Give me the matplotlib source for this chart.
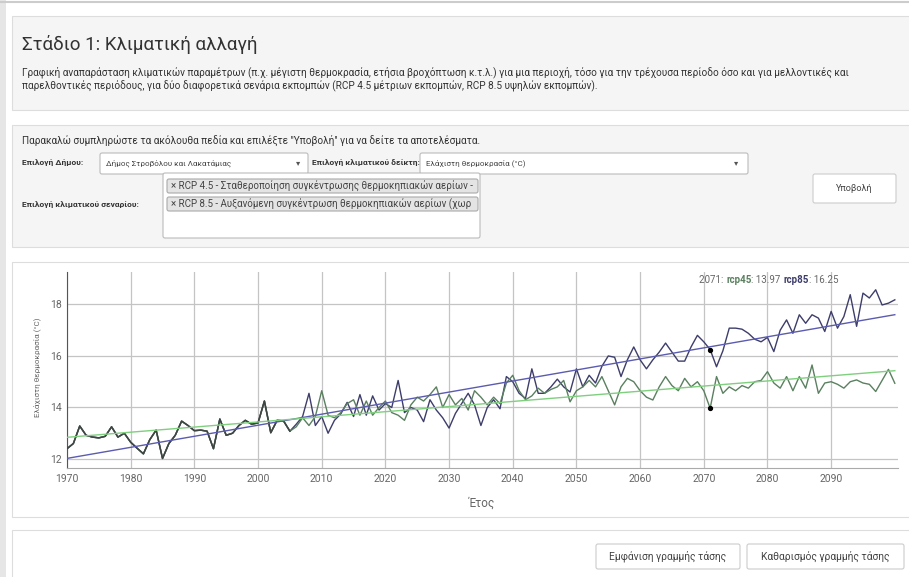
import numpy as np
import matplotlib
matplotlib.use("Agg")
import matplotlib.pyplot as plt
from matplotlib.patches import Rectangle, FancyBboxPatch
from matplotlib.offsetbox import TextArea, HPacker, AnnotationBbox
#======================================================================#
## data
hist_years = list(range(1970, 2006))
hist_vals = [12.40, 12.60, 13.28, 12.92, 12.85, 12.82, 12.88, 13.25, 12.85, 13.00,
             12.65, 12.42, 12.20, 12.75, 13.12, 12.02, 12.60, 12.92, 13.47, 13.30,
             13.10, 13.12, 13.08, 12.40, 13.55, 12.92, 13.00, 13.30, 13.50, 13.35,
             13.40, 14.25, 13.02, 13.50, 13.48, 13.08]

future_years = list(range(2006, 2101))
rcp85_future = [13.35, 13.65, 14.55, 13.30, 13.65, 13.00, 13.50, 13.75, 14.20, 13.65,
                14.50, 13.70, 14.45, 13.90, 14.15, 14.00, 15.05, 13.80, 14.00, 13.90,
                13.45, 14.30, 13.90, 13.60, 13.20, 13.77, 14.16, 14.55, 14.10, 13.30,
                14.00, 14.30, 13.95, 15.20, 15.00, 14.55, 14.35, 15.50, 14.55, 14.55,
                14.80, 15.10, 14.80, 14.60, 15.50, 14.80, 15.25, 14.95, 15.60, 16.00,
                15.95, 15.20, 15.85, 16.35, 15.85, 15.50, 15.85, 16.15, 16.50, 16.15,
                15.80, 15.80, 16.35, 16.80, 16.55, 16.25, 15.58, 16.20, 17.08, 17.08,
                17.04, 16.88, 16.65, 16.55, 16.72, 16.17, 17.00, 17.40, 16.88, 17.60,
                17.27, 17.60, 17.47, 16.95, 17.73, 17.08, 17.53, 18.38, 17.15, 18.44,
                18.25, 18.57, 17.98, 18.05, 18.18]
rcp45_future = [13.25, 13.60, 13.30, 13.65, 14.65, 13.70, 13.60, 13.80, 14.15, 14.30,
                13.70, 14.25, 13.70, 14.00, 14.25, 13.80, 13.70, 13.50, 14.10, 14.40,
                14.25, 14.50, 14.80, 14.00, 14.50, 14.10, 14.35, 13.90, 14.65, 14.40,
                14.10, 14.40, 14.15, 14.95, 15.25, 14.65, 14.30, 14.45, 14.75, 14.55,
                14.70, 14.80, 15.05, 14.22, 14.65, 14.80, 15.05, 14.80, 15.20, 14.65,
                14.10, 14.80, 15.13, 15.00, 14.65, 14.40, 14.29, 14.80, 15.20, 14.85,
                14.65, 15.13, 14.80, 15.00, 14.65, 13.97, 15.20, 14.55, 14.80, 14.65,
                14.85, 14.75, 15.00, 15.05, 15.39, 14.95, 14.75, 15.20, 14.65, 15.20,
                14.75, 15.65, 14.55, 14.95, 15.00, 14.90, 14.75, 15.00, 15.07, 14.95,
                14.90, 14.62, 15.05, 15.48, 14.94]

hover_year = 2071
hover_rcp45 = "13.97"
hover_rcp85 = "16.25"

x_ticks = [1970, 1980, 1990, 2000, 2010, 2020, 2030, 2040, 2050, 2060, 2070, 2080, 2090]
y_ticks = [12, 14, 16, 18]
#======================================================================#
## style parameters
W, H = 909, 577
ui_font = ['Roboto', 'DejaVu Sans']
c_rcp85 = '#3d3d6b'
c_rcp45 = '#5a8060'
c_trend85 = '#5b5bb0'
c_trend45 = '#7fcf7f'
c_panel = '#f5f5f5'
c_border = '#dddddd'
c_text = '#333333'
fs_small = 7.2                  # description / form text size
#======================================================================#
def box(ax, x0, y0, x1, y1, fc, ec, r=0.0, lw=0.8, z=1):
    if r > 0:
        p = FancyBboxPatch((x0, y0), x1 - x0, y1 - y0, boxstyle="round,pad=0,rounding_size=%g" % r,
                           fc=fc, ec=ec, lw=lw, zorder=z)
    else:
        p = Rectangle((x0, y0), x1 - x0, y1 - y0, fc=fc, ec=ec, lw=lw, zorder=z)
    ax.add_patch(p)

def main():
    fig = plt.figure(figsize=(W / 100, H / 100), dpi=100)
    bg = fig.add_axes([0, 0, 1, 1])
    bg.set_xlim(0, W)
    bg.set_ylim(H, 0)
    bg.axis('off')

    # page frame
    box(bg, 0, 0, 6, H, '#e6e6e6', 'none', z=0)
    bg.plot([0, W], [1.5, 1.5], color='#cccccc', lw=1.5)

    # header panel
    box(bg, 12, 16, W + 5, 110, c_panel, c_border)
    bg.text(22, 45, "Στάδιο 1: Κλιματική αλλαγή", fontsize=13.5, family=ui_font,
            color=c_text, va='center', ha='left')
    bg.text(22, 72, "Γραφική αναπαράσταση κλιματικών παραμέτρων (π.χ. μέγιστη θερμοκρασία, ετήσια βροχόπτωση κ.τ.λ.) "
            "για μια περιοχή, τόσο για την τρέχουσα περίοδο όσο και για μελλοντικές και",
            fontsize=fs_small, family=ui_font, color=c_text, va='center')
    bg.text(22, 86, "παρελθοντικές περιόδους, για δύο διαφορετικά σενάρια εκπομπών "
            "(RCP 4.5 μέτριων εκπομπών, RCP 8.5 υψηλών εκπομπών).",
            fontsize=fs_small, family=ui_font, color=c_text, va='center')

    # form panel
    box(bg, 12, 125, W + 5, 247, c_panel, c_border)
    bg.text(22, 140, "Παρακαλώ συμπληρώστε τα ακόλουθα πεδία και επιλέξτε \"Υποβολή\" για να δείτε τα αποτελέσματα.",
            fontsize=fs_small, family=ui_font, color=c_text, va='center')
    bg.text(22, 163, "Επιλογή Δήμου:", fontsize=6.0, family=ui_font, weight='bold', color=c_text, va='center')
    box(bg, 100, 153, 308, 174, 'white', '#bbbbbb', r=2)
    bg.text(106, 163.5, "Δήμος Στροβόλου και Λακατάμιας", fontsize=5.8, family=ui_font, color='#444444', va='center')
    bg.text(298, 163.5, "▾", fontsize=6, family=ui_font, color='#555555', va='center', ha='center')
    bg.text(312, 163, "Επιλογή κλιματικού δείκτη:", fontsize=6.0, family=ui_font, weight='bold', color=c_text, va='center')
    box(bg, 420, 153, 748, 174, 'white', '#bbbbbb', r=2)
    bg.text(426, 163.5, "Ελάχιστη θερμοκρασία (°C)", fontsize=5.8, family=ui_font, color='#444444', va='center')
    bg.text(736, 163.5, "▾", fontsize=6, family=ui_font, color='#555555', va='center', ha='center')

    bg.text(22, 204, "Επιλογή κλιματικού σεναρίου:", fontsize=6.0, family=ui_font, weight='bold', color=c_text, va='center')
    box(bg, 163, 173, 480, 238, 'white', '#bbbbbb', r=2)
    box(bg, 167, 179, 478, 193, '#e4e4e4', '#aaaaaa', r=2, z=2)
    box(bg, 167, 197, 478, 211, '#e4e4e4', '#aaaaaa', r=2, z=2)
    bg.text(171, 186, "× RCP 4.5 - Σταθεροποίηση συγκέντρωσης θερμοκηπιακών αερίων -",
            fontsize=7.0, family=ui_font, color='#444444', va='center', zorder=3)
    bg.text(171, 204, "× RCP 8.5 - Αυξανόμενη συγκέντρωση θερμοκηπιακών αερίων (χωρ",
            fontsize=7.0, family=ui_font, color='#444444', va='center', zorder=3)
    box(bg, 813, 174, 896, 203, 'white', '#cccccc', r=2)
    bg.text(854.5, 188.5, "Υποβολή", fontsize=6.6, family=ui_font, color='#444444', va='center', ha='center')

    # chart panel
    box(bg, 12, 262, W + 5, 517, 'white', c_border)
    bg.text(37, 367, "Ελάχιστη θερμοκρασία (°C)", fontsize=5.8, family=ui_font, color='#666666',
            rotation=90, va='center', ha='center')
    bg.text(482, 503, "Έτος", fontsize=8.5, family=ui_font, color='#666666', va='center', ha='center')

    # bottom panel with buttons
    box(bg, 12, 530, W + 5, H + 5, 'white', c_border)
    box(bg, 596, 544, 740, 569, 'white', '#cccccc', r=2)
    bg.text(668, 556.5, "Εμφάνιση γραμμής τάσης", fontsize=7.4, family=ui_font, color='#444444', va='center', ha='center')
    box(bg, 747, 544, 904, 569, 'white', '#cccccc', r=2)
    bg.text(825.5, 556.5, "Καθαρισμός γραμμής τάσης", fontsize=7.4, family=ui_font, color='#444444', va='center', ha='center')

    #==================================================================#
    ## chart
    ax = fig.add_axes([67 / W, 1 - 468 / H, (898 - 67) / W, (468 - 272) / H])
    ax.set_facecolor('white')
    years = np.array(hist_years + future_years)
    rcp45 = np.array(hist_vals + rcp45_future)
    rcp85 = np.array(hist_vals + rcp85_future)

    ax.plot(years, rcp85, color=c_rcp85, lw=1.0, zorder=3)
    ax.plot(years, rcp45, color=c_rcp45, lw=1.0, zorder=3)
    ax.plot(hist_years, hist_vals, color='#3f4542', lw=1.1, zorder=4)

    # trend lines (least squares)
    for vals, col in ((rcp85, c_trend85), (rcp45, c_trend45)):
        k, b = np.polyfit(years, vals, 1)
        ax.plot([years[0], years[-1]], [k * years[0] + b, k * years[-1] + b], color=col, lw=1.0, zorder=5)

    i = list(years).index(hover_year)
    ax.plot([hover_year, hover_year], [rcp45[i], rcp85[i]], 'o', color='black', ms=2.8, zorder=6, lw=0)

    tip = HPacker(children=[
        TextArea("%d: " % hover_year, textprops=dict(color='#666666', fontsize=7, family=ui_font)),
        TextArea("rcp45", textprops=dict(color=c_rcp45, fontsize=7, family=ui_font, weight='bold')),
        TextArea(": %s " % hover_rcp45, textprops=dict(color='#666666', fontsize=7, family=ui_font)),
        TextArea("rcp85", textprops=dict(color=c_rcp85, fontsize=7, family=ui_font, weight='bold')),
        TextArea(": %s" % hover_rcp85, textprops=dict(color='#666666', fontsize=7, family=ui_font)),
    ], sep=0, pad=0, align='baseline')
    ax.add_artist(AnnotationBbox(tip, (2069.3, 18.95), xycoords='data', box_alignment=(0, 0.5),
                                 frameon=False, pad=0, zorder=7))

    ax.set_xlim(1970, 2100.5)
    ax.set_ylim(11.65, 19.26)
    ax.set_xticks(x_ticks)
    ax.set_yticks(y_ticks)
    ax.grid(color='#c4c4c4', lw=0.9)
    ax.set_axisbelow(True)
    for s in ('top', 'right'):
        ax.spines[s].set_visible(False)
    ax.spines['left'].set_color('#555555')
    ax.spines['bottom'].set_color('#aaaaaa')
    ax.tick_params(length=0, pad=4, labelsize=7.5, labelcolor='#666666')
    for lab in ax.get_xticklabels() + ax.get_yticklabels():
        lab.set_family(ui_font)

    fig.savefig("out.png", dpi=100)
    print("Ok!")
#======================================================================#
if __name__ == '__main__':
    main()
